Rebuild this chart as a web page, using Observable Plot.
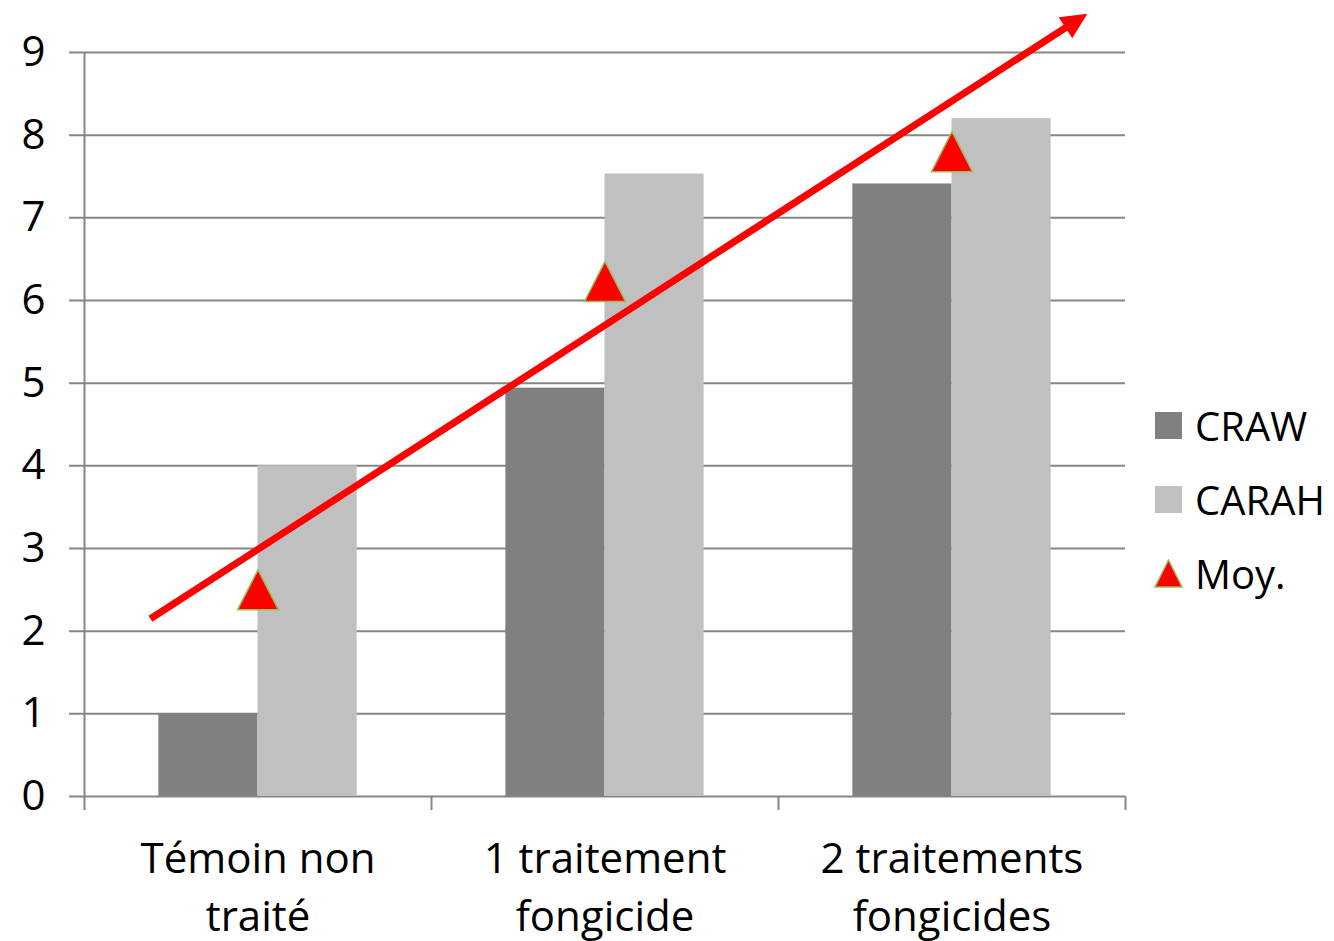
<!DOCTYPE html>
<html><head><meta charset="utf-8">
<script src="https://cdn.jsdelivr.net/npm/d3@7"></script>
<script src="https://cdn.jsdelivr.net/npm/@observablehq/plot@0.6"></script>
<style>
body{margin:0;background:#fff;font-family:"Open Sans", sans-serif;}
#wrap{position:relative;width:1334px;height:941px;}
#legend{position:absolute;left:1155px;top:388px;}
.row{display:flex;align-items:center;height:74px;font-size:40px;color:#000;font-family:"Open Sans", sans-serif;}
.sw{width:27px;height:27px;margin-right:13px;display:block;}
</style></head><body><div id="wrap"><div id="chart"></div><div id="legend"></div></div>
<script>
// ---- data ----
const categories = ["Témoin non\ntraité", "1 traitement\nfongicide", "2 traitements\nfongicides"];
const seriesNames = ["CRAW", "CARAH"];
const seriesColors = ["#808080", "#c0c0c0"];
const craw = [1.0, 4.94, 7.41];
const carah = [4.0, 7.53, 8.2];
const moy = [2.5, 6.23, 7.8];
const yTicks = [0, 1, 2, 3, 4, 5, 6, 7, 8, 9];
// hand-drawn trend arrow in data units (category index, value)
const trendStart = {i: -0.31, v: 2.15};
const trendEnd = {i: 2.39, v: 9.47};

// ---- layout ----
const W = 1334, H = 941;
const M = {top: 52, right: 209, bottom: 145, left: 84};
const gridColor = "#868686";
const barShare = 1 / 3.5; // gap width 150%

const bars = categories.flatMap((c, i) => [
  {i, series: seriesNames[0], v: craw[i], x1: i - barShare, x2: i},
  {i, series: seriesNames[1], v: carah[i], x1: i, x2: i + barShare}
]);
const moyData = moy.map((v, i) => ({i, v}));
const bounds = d3.range(categories.length + 1).map(k => k - 0.5);
const trend = [{x1: trendStart.i, y1: trendStart.v, x2: trendEnd.i, y2: trendEnd.v}];

const triSym = {draw(ctx) { ctx.moveTo(0, -20); ctx.lineTo(20.5, 20); ctx.lineTo(-20.5, 20); ctx.closePath(); }};

function baseMarks() {
  return [
    Plot.ruleY(yTicks, {stroke: gridColor, strokeWidth: 2, insetLeft: -15}),
    Plot.ruleX([bounds[0]], {stroke: gridColor, strokeWidth: 2, insetBottom: -14}),
    Plot.axisX({ticks: bounds.slice(1), tickSize: 14, tickFormat: () => "", stroke: gridColor, strokeWidth: 2}),
    Plot.axisY({ticks: yTicks, tickSize: 0, tickPadding: 39, fontSize: 42, fill: "black", tickFormat: d => String(d)}),
    Plot.axisX({ticks: d3.range(categories.length), tickSize: 0, tickPadding: 36, fontSize: 42, lineHeight: 1.37, fill: "black", tickFormat: i => categories[i]}),
    Plot.rectY(bars, {x1: "x1", x2: "x2", y: "v", fill: "series"}),
    Plot.dot(moyData, {x: "i", y: "v", symbol: triSym, fill: "#ff0000", stroke: "#9bbb59", strokeWidth: 1.5, r: 10}),
    Plot.arrow(trend, {x1: "x1", y1: "y1", x2: "x2", y2: "y2", stroke: "#ff0000", strokeWidth: 7, headLength: 0, insetEnd: 20, strokeLinecap: "butt"})
  ];
}

const opts = (marks) => ({
  width: W, height: H,
  marginTop: M.top, marginRight: M.right, marginBottom: M.bottom, marginLeft: M.left,
  x: {domain: [bounds[0], bounds[bounds.length - 1]], axis: null},
  y: {domain: [0, 9], axis: null},
  color: {domain: seriesNames, range: seriesColors},
  style: {fontFamily: "'Open Sans', sans-serif", fontSize: "42px", background: "white", color: "black", overflow: "visible"},
  marks
});

// first pass to get the pixel scales, for the arrowhead angle
const probe = Plot.plot(opts(baseMarks()));
const sx = probe.scale("x"), sy = probe.scale("y");
const px = d3.scaleLinear(sx.domain, sx.range), py = d3.scaleLinear(sy.domain, sy.range);
const ang = Math.atan2(py(trendEnd.v) - py(trendStart.v), px(trendEnd.i) - px(trendStart.i));
const headSym = {draw(ctx) {
  const pts = [[0, 0], [-26, -12.5], [-26, 12.5]].map(([a, b]) => [a * Math.cos(ang) - b * Math.sin(ang), a * Math.sin(ang) + b * Math.cos(ang)]);
  ctx.moveTo(...pts[0]); ctx.lineTo(...pts[1]); ctx.lineTo(...pts[2]); ctx.closePath();
}};

const chart = Plot.plot(opts([
  ...baseMarks(),
  Plot.dot([trendEnd], {x: "i", y: "v", symbol: headSym, fill: "#ff0000", stroke: "none", r: 10})
]));
document.getElementById("chart").appendChild(chart);

// legend
const legend = document.getElementById("legend");
seriesNames.forEach((s, k) => {
  const row = document.createElement("div"); row.className = "row";
  row.innerHTML = `<span class="sw" style="background:${seriesColors[k]}"></span><span>${s}</span>`;
  legend.appendChild(row);
});
const row = document.createElement("div"); row.className = "row";
row.innerHTML = `<svg class="sw" width="29" height="29" viewBox="0 0 29 29" style="width:29px;height:29px;margin-left:-1px;margin-right:12px"><polygon points="14.5,1 28,28 1,28" fill="#ff0000" stroke="#9bbb59" stroke-width="1.5"/></svg><span>Moy.</span>`;
legend.appendChild(row);
</script>
</body></html>
